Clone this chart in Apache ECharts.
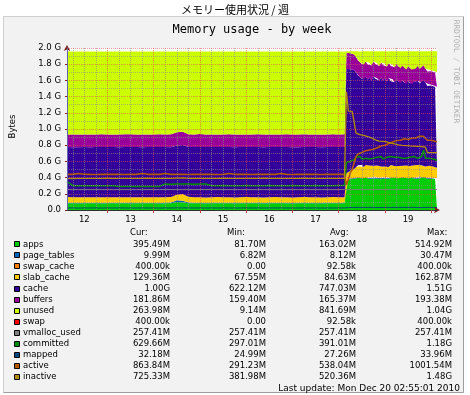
<!DOCTYPE html>
<html><head><meta charset="utf-8">
<script src="https://cdn.jsdelivr.net/npm/echarts@6/dist/echarts.min.js"></script>
<style>html,body{margin:0;padding:0;background:#fff}#c{width:470px;height:395px}</style>
</head><body><div id="c"></div>
<script>
// ---- time points: hours since 2010-12-12 00:00 ----
const hours = [3,6,9,12,15,18,21,24,27,30,33,36,39,42,45,48,51,54,57,60,63,66,69,72,75,78,81,84,87,90,93,96,99,102,105,108,111,114,117,120,123,126,129,132,135,138,141,144,147,
148,149,150,151,152,153,154,155,156,157,158,159,160,161,162,163,164,165,166,167,168,169,170,171,172,173,174,175,176,177,178,179,180,181,182,183,184,185,186,187,188,189,190,191,192,193,194,195];

// ---- tick labels ----
const dayLabels = ['12','13','14','15','16','17','18','19'];
const labelHours = [12,36,60,84,108,132,156,180];
const midnightHours = [24,48,72,96,120,144,168,192];
const quarterHours = [6,12,18,30,36,42,54,60,66,78,84,90,102,108,114,126,132,138,150,156,162,174,180,186];

// ---- series values (MiB) ----
const apps = [86,84,83,84,85,84,83,84,84,85,84,83,84,84,85,84,83,84,86,100,98,86,84,84,83,84,85,84,84,83,84,85,84,84,83,84,85,84,84,83,84,85,84,84,83,84,85,84,84,
372,380,388,392,396,400,405,398,402,395,408,400,392,404,398,410,396,402,390,405,398,406,394,400,410,397,403,392,405,399,408,395,401,393,406,400,396,409,398,404,415,400,396,402,392,398,394,395];
const pageTables = [7,7,7,7,7,7,7,7,7,7,7,7,7,7,7,7,7,7,8,22,18,9,7,7,7,7,7,7,7,7,7,7,7,7,7,7,7,7,7,7,7,7,7,7,7,7,7,7,7,
10,10,11,10,10,10,10,9,10,10,10,10,10,11,10,10,10,10,10,10,10,9,10,10,10,10,10,10,11,10,10,10,10,10,10,10,10,10,10,10,10,10,10,10,10,10,10,10];
const swapCache = [0,0,0,0,0,0,0,0,0,0,0,0,0,0,0,0,0,0,0,0,0,0,0,0,0,0,0,0,0,0,0,0,0,0,0,0,0,0,0,0,0,0,0,0,0,0,0,0,0,
0.39,0.39,0.39,0.39,0.39,0.39,0.39,0.39,0.39,0.39,0.39,0.39,0.39,0.39,0.39,0.39,0.39,0.39,0.39,0.39,0.39,0.39,0.39,0.39,0.39,0.39,0.39,0.39,0.39,0.39,0.39,0.39,0.39,0.39,0.39,0.39,0.39,0.39,0.39,0.39,0.39,0.39,0.39,0.39,0.39,0.39,0.39,0.39];
const slabCache = [72,71,70,70,69,70,71,70,70,69,70,71,70,70,69,70,71,70,70,72,85,74,70,70,69,70,71,70,70,69,70,71,70,70,69,70,71,70,70,69,70,71,70,70,69,70,71,70,70,
82,90,96,102,112,135,150,142,158,138,152,145,160,136,150,140,155,133,148,156,140,152,138,158,144,150,135,155,142,150,137,158,145,152,140,156,143,150,138,152,146,140,132,148,136,142,130,129];
const cache = [630,632,634,635,633,634,636,635,634,633,635,636,634,633,635,634,636,635,630,622,622,628,634,635,636,634,633,635,636,634,635,633,634,636,635,634,633,635,636,634,633,635,634,636,635,634,633,635,636,
1320,1300,1285,1270,1250,1195,1135,1129,1089,1106,1117,1093,1113,1085,1128,1099,1103,1092,1128,1066,1117,1057,1126,1060,1087,1059,1104,1067,1043,1082,1054,1029,1074,1048,1032,1054,1057,1062,1053,1048,1074,1057,1030,1028,1035,1026,1022,1024];
const buffers = [160,160,159,160,161,160,160,159,160,160,161,160,160,159,160,160,161,160,165,166,165,160,161,164,160,160,159,160,161,160,160,159,160,160,161,160,160,159,160,160,161,160,160,159,160,160,161,160,160,
205,205,200,200,198,195,190,188,186,190,188,192,185,190,194,186,191,183,189,193,185,190,187,192,184,189,193,186,190,184,191,188,185,192,187,190,184,189,186,191,185,183,182,184,181,183,182,182];
const unused = [1050,1051,1052,1049,1050,1050,1048,1050,1050,1051,1048,1048,1050,1052,1049,1050,1047,1049,1046,1023,1017,1048,1049,1045,1050,1050,1050,1049,1047,1052,1049,1050,1050,1048,1050,1050,1049,1050,1048,1052,1050,1047,1050,1049,1051,1050,1048,1049,1048,
16,20,26,31,39,70,115,138,160,166,130,165,145,180,125,160,150,185,140,175,155,190,150,185,170,200,160,195,215,180,205,225,190,210,230,195,215,185,220,200,175,215,255,233,251,246,267,265];
const swap = [0,0,0,0,0,0,0,0,0,0,0,0,0,0,0,0,0,0,0,0,0,0,0,0,0,0,0,0,0,0,0,0,0,0,0,0,0,0,0,0,0,0,0,0,0,0,0,0,0,
0.39,0.39,0.39,0.39,0.39,0.39,0.39,0.39,0.39,0.39,0.39,0.39,0.39,0.39,0.39,0.39,0.39,0.39,0.39,0.39,0.39,0.39,0.39,0.39,0.39,0.39,0.39,0.39,0.39,0.39,0.39,0.39,0.39,0.39,0.39,0.39,0.39,0.39,0.39,0.39,0.39,0.39,0.39,0.39,0.39,0.39,0.39,0.39];
const vmallocUsed = [257.41,257.41,257.41,257.41,257.41,257.41,257.41,257.41,257.41,257.41,257.41,257.41,257.41,257.41,257.41,257.41,257.41,257.41,257.41,257.41,257.41,257.41,257.41,257.41,257.41,257.41,257.41,257.41,257.41,257.41,257.41,257.41,257.41,257.41,257.41,257.41,257.41,257.41,257.41,257.41,257.41,257.41,257.41,257.41,257.41,257.41,257.41,257.41,257.41,
257.41,257.41,257.41,257.41,257.41,257.41,257.41,257.41,257.41,257.41,257.41,257.41,257.41,257.41,257.41,257.41,257.41,257.41,257.41,257.41,257.41,257.41,257.41,257.41,257.41,257.41,257.41,257.41,257.41,257.41,257.41,257.41,257.41,257.41,257.41,257.41,257.41,257.41,257.41,257.41,257.41,257.41,257.41,257.41,257.41,257.41,257.41,257.41];
const committed = [358,307,306,307,308,307,306,307,307,297,298,297,297,298,297,297,298,328,327,328,329,328,327,328,328,308,307,309,308,307,308,309,308,307,308,309,308,307,308,309,308,307,308,309,308,307,308,309,310,
604,594,614,604,635,666,655,676,645,666,655,676,645,666,655,645,666,655,676,645,655,666,655,676,655,666,645,666,676,655,666,655,676,666,655,676,666,655,666,676,758,655,645,655,635,645,635,630];
const mapped = [26,26,25,26,26,26,25,26,26,26,26,25,26,26,26,26,25,26,26,27,27,26,26,26,25,26,26,26,26,25,26,26,26,26,25,26,26,26,26,25,26,26,26,26,25,26,26,26,26,
30,31,32,32,33,32,32,33,32,32,33,32,32,33,32,32,33,32,33,32,32,33,32,32,33,32,32,33,32,32,33,32,32,33,32,33,32,32,33,32,34,32,32,33,32,32,32,32];
const active = [450,450,462,452,450,449,450,450,451,450,449,450,450,462,451,450,450,462,450,451,450,449,450,451,450,450,449,450,462,451,450,450,449,450,451,450,450,462,450,449,450,451,450,450,449,450,451,450,450,
317,389,471,512,594,676,707,717,727,737,748,745,758,755,768,778,788,799,809,806,819,829,840,850,860,881,878,891,881,891,901,899,891,901,911,901,911,922,932,942,932,922,881,870,881,870,868,864];
const inactive = [400,398,400,401,400,399,400,402,401,400,399,400,401,400,402,401,400,399,400,404,405,401,400,399,400,401,400,402,401,400,399,400,401,400,402,401,400,399,400,401,400,402,401,400,399,400,401,400,401,
1495,1249,1249,1248,1249,973,962,952,947,942,937,929,922,911,896,886,876,870,870,868,865,860,850,845,840,835,829,824,819,818,816,815,813,811,810,808,806,804,802,800,798,794,727,727,726,726,725,725];

// ---- legend texts ----
const names = ['apps','page_tables','swap_cache','slab_cache','cache','buffers','unused','swap','vmalloc_used','committed','mapped','active','inactive'];
const curText = ['395.49M','9.99M','400.00k','129.36M','1.00G','181.86M','263.98M','400.00k','257.41M','629.66M','32.18M','863.84M','725.33M'];
const minText = ['81.70M','6.82M','0.00','67.55M','622.12M','159.40M','9.14M','0.00','257.41M','297.01M','24.99M','291.23M','381.98M'];
const avgText = ['163.02M','8.12M','92.58k','84.63M','747.03M','165.37M','841.69M','92.58k','257.41M','391.01M','27.26M','538.04M','520.36M'];
const maxText = ['514.92M','30.47M','400.00k','162.87M','1.51G','193.38M','1.04G','400.00k','257.41M','1.18G','33.96M','1001.54M','1.48G'];
const lastUpdate = 'Last update: Mon Dec 20 02:55:01 2010';

// ---- styles ----
const colors = ['#00CC00','#0066B3','#FF8000','#FFCC00','#330099','#990099','#CCFF00','#FF0000','#808080','#008F00','#00487D','#B35A00','#B38F00'];
const lineWidths = [1,1.5,1,1.6,1.3];

const T0 = Date.UTC(2010, 11, 12);
const H = 3600000;
const toPts = arr => hours.map((h, i) => [T0 + h * H, arr[i] / 1024]);
const areaData = [apps, pageTables, swapCache, slabCache, cache, buffers, unused, swap];
const lineData = [vmallocUsed, committed, mapped, active, inactive];

const series = [];
areaData.forEach((arr, k) => series.push({
  name: names[k], type: 'line', stack: 'mem', data: toPts(arr), symbol: 'none', showSymbol: false,
  xAxisIndex: 0, yAxisIndex: 0,
  lineStyle: { width: 0 }, areaStyle: { color: colors[k], opacity: 1 }, itemStyle: { color: colors[k] },
  z: 2, silent: true
}));
lineData.forEach((arr, j) => series.push({
  name: names[8 + j], type: 'line', data: toPts(arr), symbol: 'none', showSymbol: false,
  xAxisIndex: 0, yAxisIndex: 0,
  lineStyle: { width: lineWidths[j], color: colors[8 + j] }, itemStyle: { color: colors[8 + j] },
  z: 3, silent: true
}));

const FONT = 'DejaVu Sans';
const lf = { fontFamily: FONT, fontSize: 8.5, fill: '#000' };
const graphics = [
  { type: 'rect', z: -10, silent: true, shape: { x: 3, y: 16, width: 461, height: 377 }, style: { fill: '#F2F2F2' } },
  { type: 'line', z: -9, silent: true, shape: { x1: 3.5, y1: 16.5, x2: 463.5, y2: 16.5 }, style: { stroke: '#CFCFCF', lineWidth: 1 } },
  { type: 'line', z: -9, silent: true, shape: { x1: 3.5, y1: 16.5, x2: 3.5, y2: 392.5 }, style: { stroke: '#CFCFCF', lineWidth: 1 } },
  { type: 'line', z: -9, silent: true, shape: { x1: 463.5, y1: 16.5, x2: 463.5, y2: 392.5 }, style: { stroke: '#9E9E9E', lineWidth: 1 } },
  { type: 'line', z: -9, silent: true, shape: { x1: 3.5, y1: 392.5, x2: 463.5, y2: 392.5 }, style: { stroke: '#9E9E9E', lineWidth: 1 } },
  { type: 'text', x: 235, y: 9.5, silent: true, style: { text: 'メモリー使用状況 / 週', fontFamily: 'Noto Sans CJK JP', fontSize: 11, fill: '#000', align: 'center', verticalAlign: 'middle' } },
  { type: 'text', x: 252, y: 30, silent: true, style: { text: 'Memory usage - by week', fontFamily: 'DejaVu Sans Mono', fontSize: 12, fill: '#000', align: 'center', verticalAlign: 'middle' } },
  { type: 'text', x: 456, y: 71.5, rotation: -Math.PI / 2, silent: true, style: { text: 'RRDTOOL / TOBI OETIKER', fontFamily: 'DejaVu Sans Mono', fontSize: 7.8, fill: '#B0B0B0', align: 'center', verticalAlign: 'middle' } },
  { type: 'text', x: 12.5, y: 126.5, rotation: Math.PI / 2, silent: true, style: { text: 'Bytes', ...lf, align: 'center', verticalAlign: 'middle' } },
  { type: 'text', x: 130, y: 232.3, silent: true, style: { text: 'Cur:', ...lf, align: 'left', verticalAlign: 'middle' } },
  { type: 'text', x: 227, y: 232.3, silent: true, style: { text: 'Min:', ...lf, align: 'left', verticalAlign: 'middle' } },
  { type: 'text', x: 330, y: 232.3, silent: true, style: { text: 'Avg:', ...lf, align: 'left', verticalAlign: 'middle' } },
  { type: 'text', x: 427, y: 232.3, silent: true, style: { text: 'Max:', ...lf, align: 'left', verticalAlign: 'middle' } },
  { type: 'text', x: 460, y: 388.3, silent: true, style: { text: lastUpdate, fontFamily: FONT, fontSize: 9, fill: '#000', align: 'right', verticalAlign: 'middle' } }
];
names.forEach((n, k) => {
  const y = 244.3 + 11.05 * k;
  graphics.push(
    { type: 'rect', silent: true, shape: { x: 14.5, y: Math.round(y) - 2.5, width: 5, height: 5 }, style: { fill: colors[k], stroke: '#000', lineWidth: 1 } },
    { type: 'text', x: 23, y, silent: true, style: { text: n, ...lf, align: 'left', verticalAlign: 'middle' } },
    { type: 'text', x: 170, y, silent: true, style: { text: curText[k], ...lf, align: 'right', verticalAlign: 'middle' } },
    { type: 'text', x: 266, y, silent: true, style: { text: minText[k], ...lf, align: 'right', verticalAlign: 'middle' } },
    { type: 'text', x: 356, y, silent: true, style: { text: avgText[k], ...lf, align: 'right', verticalAlign: 'middle' } },
    { type: 'text', x: 452, y, silent: true, style: { text: maxText[k], ...lf, align: 'right', verticalAlign: 'middle' } }
  );
});

const MAJOR = 'rgba(222,79,79,0.55)';
const MINOR = 'rgba(143,143,143,0.6)';
const chart = echarts.init(document.getElementById('c'), null, { renderer: 'canvas' });
chart.setOption({
  animation: false,
  backgroundColor: '#ffffff',
  grid: { left: 67, top: 48, width: 370, height: 162, show: true, backgroundColor: '#ffffff', borderWidth: 0, containLabel: false, outerBoundsMode: 'none' },
  xAxis: [{
    // data axis (time), hidden decorations
    type: 'time', min: T0 + 3 * H, max: T0 + 195 * H, position: 'bottom', z: 1,
    axisLine: { show: false }, axisTick: { show: false }, axisLabel: { show: false }, splitLine: { show: false }
  }, {
    // day labels, midnight ticks and major grid (hours scale)
    type: 'value', min: 3, max: 195, position: 'bottom', z: 5,
    axisLine: { show: true, onZero: false, lineStyle: { color: '#303030', width: 1 } },
    axisTick: { show: true, customValues: midnightHours, length: 3, lineStyle: { color: '#C04040' } },
    axisLabel: { show: true, customValues: labelHours, margin: 5, color: '#000', fontFamily: FONT, fontSize: 8.5,
      formatter: v => dayLabels[labelHours.indexOf(v)] },
    splitLine: { show: true, lineStyle: { color: MAJOR, type: [1, 1], width: 1 } }
  }, {
    // 6-hour minor grid and arrow
    type: 'value', min: 3, max: 195, position: 'bottom', z: 4,
    axisLine: { show: true, onZero: false, symbol: ['none', 'arrow'], symbolSize: [5, 6], symbolOffset: [0, 3], lineStyle: { color: '#801F1F' } },
    axisTick: { show: false, customValues: quarterHours },
    axisLabel: { show: false },
    splitLine: { show: true, lineStyle: { color: MINOR, type: [1, 1], width: 1 } }
  }],
  yAxis: [{
    type: 'value', min: 0, max: 2, interval: 0.2, position: 'left', z: 5,
    axisLine: { show: true, onZero: false, lineStyle: { color: '#6464A8' } },
    axisTick: { show: true, length: 2, lineStyle: { color: '#801F1F' } },
    axisLabel: { margin: 6, color: '#000', fontFamily: FONT, fontSize: 8.5, formatter: v => v === 0 ? '0.0' : v.toFixed(1) + ' G' },
    splitLine: { show: true, lineStyle: { color: MAJOR, type: [1, 1], width: 1 } },
    minorTick: { show: false, splitNumber: 2 },
    minorSplitLine: { show: true, lineStyle: { color: MINOR, type: [1, 1], width: 1 } }
  }, {
    type: 'value', min: 0, max: 2, position: 'left', z: 4,
    axisLine: { show: true, onZero: false, symbol: ['none', 'arrow'], symbolSize: [5, 6], symbolOffset: [0, 3], lineStyle: { color: '#801F1F' } },
    axisTick: { show: false }, axisLabel: { show: false }, splitLine: { show: false }
  }],
  graphic: { elements: graphics },
  series
});
</script>
</body></html>
